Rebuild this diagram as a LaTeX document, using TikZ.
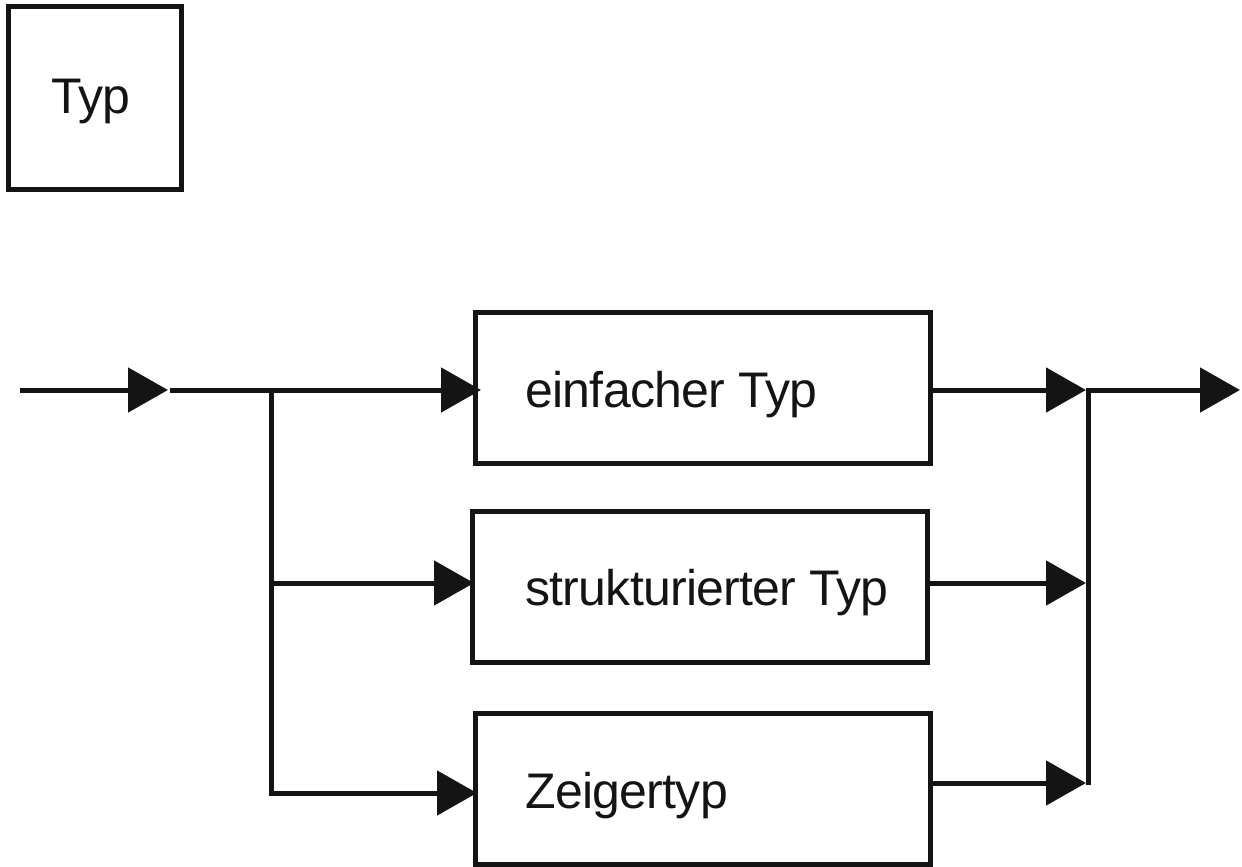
\documentclass[tikz,border=0pt]{standalone}
\usepackage{fontspec}
\setmainfont{Liberation Sans}[LetterSpace=-1.5]
\usetikzlibrary{arrows.meta}
\definecolor{ink}{HTML}{141414}
\begin{document}
\begin{tikzpicture}[x=1pt,y=-1pt,
  line width=5pt, draw=ink,
  tip/.style={-{Triangle[length=40pt,width=44pt]}},
  boxnode/.style={draw=ink,line width=5pt,minimum width=455pt,minimum height=151pt,inner sep=0pt},
  lbl/.style={anchor=base west,inner sep=0pt,text=ink,font=\fontsize{50}{60}\selectfont},
  line cap=butt]
\useasboundingbox (0,0) rectangle (1242,867);
% legend box
\node[draw=ink,line width=5pt,minimum width=173pt,minimum height=182pt,inner sep=0pt] (typbox) at (94.5,98) {};
\node[anchor=base,inner sep=0pt,text=ink,font=\fontsize{50}{60}\selectfont] (typlbl) at (91,113) {Typ};
% boxes
\node[boxnode] (b1) at (702.5,388) {};
\node[boxnode] (b2) at (699.5,586.5) {};
\node[boxnode] (b3) at (702.5,789) {};
\node[lbl] (t1) at (523,407) {einfacher Typ};
\node[lbl] (t2) at (523,605) {strukturierter Typ};
\node[lbl] (t3) at (523,808) {Zeigertyp};
% coordinates
\coordinate (start) at (20,390);
\coordinate (j0) at (168,390);
\coordinate (j1) at (170,390);
\coordinate (split) at (271,390);
\coordinate (s2) at (271,583);
\coordinate (s3) at (271,793);
\coordinate (in1) at (481,390);
\coordinate (in2) at (474,583);
\coordinate (in3) at (477,793);
\coordinate (o1) at (930,390);
\coordinate (o2) at (926,583);
\coordinate (o3) at (930,783);
\coordinate (m1) at (1086,390);
\coordinate (m2) at (1086,583);
\coordinate (m3) at (1086,783);
\coordinate (r1) at (1088,390);
\coordinate (r3) at (1088,785);
\coordinate (out) at (1240,390);
% connectors
\draw[tip] (start) -- (j0);
\draw[tip] (j1) -- (in1);
\draw (split) -- (271,795.5);
\draw[tip] (s2) -- (in2);
\draw[tip] (268.5,793) -- (in3);
\draw[tip] (o1) -- (m1);
\draw[tip] (o2) -- (m2);
\draw[tip] (o3) -- (m3);
\draw (1088,387.5) -- (r3);
\draw[tip] (r1) -- (out);
\end{tikzpicture}
\end{document}
